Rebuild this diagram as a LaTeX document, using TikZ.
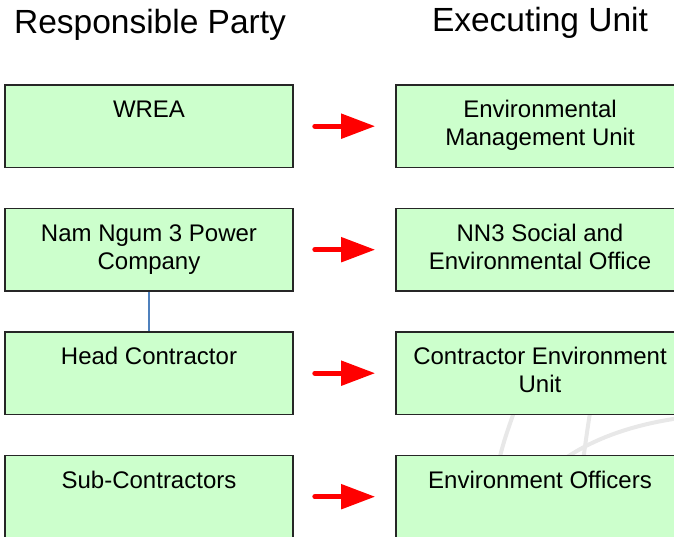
\documentclass[tikz,border=0pt]{standalone}
\usepackage{fontspec}
\setmainfont{Liberation Sans}
\usepackage{xcolor}
\definecolor{boxgreen}{HTML}{CCFFCC}
\definecolor{tieblue}{HTML}{4F81BD}
\definecolor{markgray}{HTML}{E8E8E8}
\usepackage{tikz}
\usetikzlibrary{arrows.meta,positioning}
\newcommand{\boxlines}[2]{\strut #1\\\strut #2}

\begin{document}
\begin{tikzpicture}[x=1pt, y=-1pt,
  orgbox/.style={draw=black!85, line width=1.6pt, fill=boxgreen, minimum width=288pt,
    minimum height=82.5pt, inner sep=0pt, align=center, font=\fontsize{24}{28}\selectfont},
  header/.style={anchor=base, font=\fontsize{33.5}{38}\selectfont},
  flowarrow/.style={draw=red, line width=5pt, line cap=round,
    -{Triangle[length=34pt,width=24pt]}, shorten <=21pt, shorten >=20pt},
  tie/.style={draw=tieblue, line width=1.2pt}]
\useasboundingbox (0,0) rectangle (674,537);
\clip (0,0) rectangle (674,537);
% faint watermark behind the boxes
\draw[markgray, line width=4pt] (497,470) .. controls (503,440) and (510,425) .. (518,400);
\draw[markgray, line width=4pt] (582,470) .. controls (585,445) and (588,425) .. (592,400);
\draw[markgray, line width=4pt] (560,462) .. controls (590,440) and (630,425) .. (680,418);
% headers
\node[header] (rphead) at (150,34) {Responsible Party};
\node[header] (euhead) at (540,32) {Executing Unit};
% responsible party column
\node[orgbox] (wrea) at (149,126.2) {\boxlines{WREA}{}};
\node[orgbox, below=39.4pt of wrea] (nn3pc) {\boxlines{Nam Ngum 3 Power}{Company}};
\node[orgbox, below=39.4pt of nn3pc] (headc) {\boxlines{Head Contractor}{}};
\node[orgbox, below=39.4pt of headc] (subc) {\boxlines{Sub-Contractors}{}};
% executing unit column
\node[orgbox, right=101.4pt of wrea] (emu) {\boxlines{Environmental}{Management Unit}};
\node[orgbox, right=101.4pt of nn3pc] (seo) {\boxlines{NN3 Social and}{Environmental Office}};
\node[orgbox, right=101.4pt of headc] (ceu) {\boxlines{Contractor Environment}{Unit}};
\node[orgbox, right=101.4pt of subc] (eoff) {\boxlines{Environment Officers}{}};
% connectors
\draw[tie] (nn3pc) -- (headc);
\draw[flowarrow] (wrea) -- (emu);
\draw[flowarrow] (nn3pc) -- (seo);
\draw[flowarrow] (headc) -- (ceu);
\draw[flowarrow] (subc) -- (eoff);
\end{tikzpicture}
\end{document}
